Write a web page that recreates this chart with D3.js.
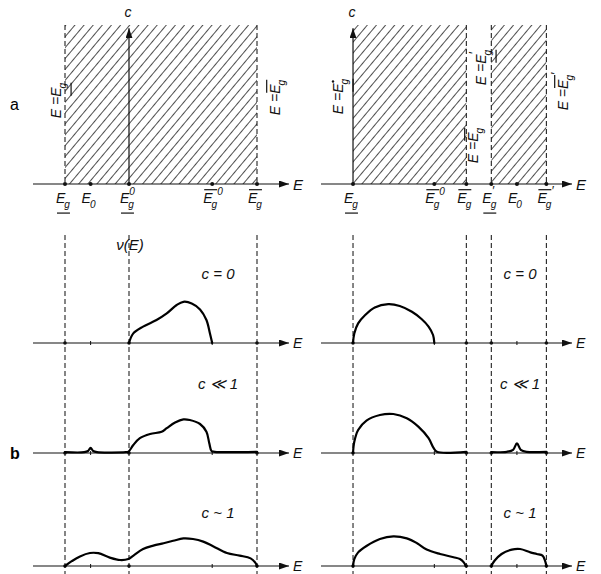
<!DOCTYPE html>
<html>
<head>
<meta charset="utf-8">
<script src="https://cdn.jsdelivr.net/npm/d3@7"></script>
<style>
  body { margin: 0; background: #fff; }
  svg { display: block; }
  .m { font-family: "Liberation Sans", Arial, sans-serif; font-style: italic; fill: #111; }
  .dash { stroke: #222; stroke-width: 1.1; stroke-dasharray: 5,3; fill: none; }
  .ax { stroke: #111; stroke-width: 1.2; fill: none; }
  .curve { stroke: #000; stroke-width: 2.2; fill: none; stroke-linejoin: round; stroke-linecap: round; }
</style>
</head>
<body>
<svg width="601" height="574"></svg>
<script>
// energies of the marked points (arbitrary units, one scale per half)
var leftTickE = [1, 1.4, 2, 3.3, 4];
var leftTickLabels = [
    {sub: "g", bar: "under"},
    {sub: "0"},
    {sub: "g", sup: "0", bar: "under"},
    {sub: "g", sup: "0", bar: "over"},
    {sub: "g", bar: "over"}
];
var leftBounds = [1, 2, 4];
var leftHatch = [[1, 4]];

var rightTickE = [1, 2.27, 2.77, 3.16, 3.56, 4.02];
var rightTickLabels = [
    {sub: "g", bar: "under"},
    {sub: "g", sup: "0", bar: "over"},
    {sub: "g", bar: "over"},
    {sub: "g", prime: true, bar: "under"},
    {sub: "0"},
    {sub: "g", prime: true, bar: "over"}
];
var rightBounds = [1, 2.77, 3.16, 4.02];
var rightHatch = [[1, 2.77], [3.16, 4.02]];

// density of states nu(E), rows c = 0, c << 1, c ~ 1
var rowLabels = ["c = 0", "c \u226A 1", "c ~ 1"];

var leftC0 = [[2.0,0],[2.067,0.24],[2.22,0.41],[2.43,0.575],[2.59,0.74],[2.745,0.95],[2.85,1.03],
    [2.98,0.99],[3.11,0.84],[3.21,0.575],[3.265,0.24],[3.3,0]];
var leftC1 = [[1,0.02],[1.3,0.02],[1.36,0.05],[1.4,0.13],[1.44,0.05],[1.5,0.02],[1.95,0.02],[1.99,0.03],
    [2.067,0.2],[2.17,0.37],[2.33,0.475],[2.51,0.53],[2.59,0.62],[2.72,0.76],[2.85,0.84],[2.95,0.825],
    [3.11,0.725],[3.21,0.53],[3.255,0.24],[3.29,0.05],[3.34,0.03],[4,0.03]];
var leftC2 = [[1.0,0],[1.105,0.12],[1.234,0.24],[1.39,0.325],[1.52,0.32],[1.70,0.21],[1.86,0.15],
    [1.99,0.175],[2.07,0.26],[2.22,0.425],[2.38,0.51],[2.54,0.57],[2.69,0.63],[2.85,0.69],[3.0,0.675],
    [3.16,0.61],[3.32,0.49],[3.53,0.325],[3.73,0.26],[3.9,0.19],[3.97,0.09],[4.0,0]];

var rightC0 = [[1.0,0],[1.02,0.24],[1.08,0.49],[1.19,0.7],[1.34,0.89],[1.55,0.97],[1.73,0.925],
    [1.92,0.78],[2.07,0.6],[2.18,0.41],[2.25,0.2],[2.27,0]];
var rightC1a = [[1.0,0],[1.02,0.28],[1.08,0.575],[1.21,0.81],[1.42,0.95],[1.63,0.975],[1.84,0.87],
    [2.02,0.66],[2.18,0.37],[2.26,0.12],[2.31,0.03],[2.77,0.03]];
var rightC1b = [[3.16,0.02],[3.4,0.03],[3.5,0.08],[3.56,0.24],[3.62,0.08],[3.71,0.03],[4.02,0.03]];
var rightC2a = [[1.0,0],[1.02,0.17],[1.08,0.34],[1.21,0.5],[1.42,0.675],[1.63,0.74],[1.84,0.69],
    [2.0,0.57],[2.15,0.41],[2.36,0.3],[2.57,0.22],[2.67,0.175],[2.73,0.09],[2.76,0]];
var rightC2b = [[3.16,0],[3.21,0.13],[3.32,0.3],[3.48,0.41],[3.61,0.425],[3.77,0.34],[3.87,0.3],
    [3.96,0.26],[4.0,0.13],[4.02,0]];

var svg = d3.select("svg");

var xL = d3.scaleLinear().domain([0.5, 4.5]).range([33, 289]),
    xR = d3.scaleLinear().domain([0.5, 4.42]).range([321, 572]),
    cY = d3.scaleLinear().domain([0, 1]).range([184, 25]),
    rowBase = [343, 453, 566];

var defs = svg.append("defs");
defs.append("marker")
    .attr("id", "arr")
    .attr("markerUnits", "userSpaceOnUse")
    .attr("markerWidth", 10).attr("markerHeight", 7)
    .attr("refX", 10).attr("refY", 3.5)
    .attr("orient", "auto")
    .append("path").attr("d", "M0,0 L10,3.5 L0,7 Z").attr("fill", "#111");

defs.append("pattern")
    .attr("id", "hatch")
    .attr("patternUnits", "userSpaceOnUse")
    .attr("width", 7).attr("height", 7)
    .attr("patternTransform", "rotate(40)")
    .append("line")
    .attr("x1", 3.5).attr("y1", 0).attr("x2", 3.5).attr("y2", 7)
    .attr("stroke", "#222").attr("stroke-width", 0.8);

// E with sub/superscript, prime and over/under bar; returns width
function eSym(g, x0, s, fs) {
    var e = g.append("text").attr("class", "m").attr("x", x0).attr("y", 0)
        .attr("font-size", fs).text("E");
    var wE = e.node().getComputedTextLength(),
        x1 = x0 + wE - 1,
        wSub = 0, wSup = 0;
    if (s.sub) {
        var st = g.append("text").attr("class", "m").attr("x", x1).attr("y", 5)
            .attr("font-size", fs * 0.72).text(s.sub);
        wSub = st.node().getComputedTextLength();
    }
    // with an overbar the superscript sits just past the bar's end
    var supX = s.bar === "over" ? x1 + wSub : x1 + 1;
    if (s.sup || s.prime) {
        var su = g.append("text").attr("class", "m").attr("x", supX).attr("y", -8)
            .attr("font-size", s.prime ? fs * 0.9 : fs * 0.72).text(s.sup ? s.sup : "\u2032");
        wSup = supX - x1 + su.node().getComputedTextLength();
    }
    if (s.dot) {
        g.append("circle").attr("cx", x1 + 3).attr("cy", -10).attr("r", 1.2).attr("fill", "#111");
    }
    if (s.bar) {
        var by = s.bar === "over" ? -fs * 0.95 : fs * 0.72;
        g.append("line").attr("x1", x0 + 1).attr("x2", x1 + wSub)
            .attr("y1", by).attr("y2", by).attr("stroke", "#111").attr("stroke-width", 1.2);
    }
    return wE + Math.max(wSub, wSup);
}

// rotated "E = E.." label centred on (cx, cy)
function boundLabel(cx, cy, s) {
    var g = svg.append("g").attr("transform", "translate(" + cx + "," + cy + ") rotate(-90)"),
        inner = g.append("g");
    var pre = inner.append("text").attr("class", "m").attr("font-size", 14).attr("x", 0).text("E = ");
    var w0 = pre.node().getComputedTextLength();
    var w = w0 + eSym(inner, w0, s, 14);
    inner.attr("transform", "translate(" + (-w / 2) + ",5)");
}

function topPanel(x, ticks, labels, hatch, dashed, cAxisE) {
    hatch.forEach(function(h) {
        svg.append("rect")
            .attr("x", x(h[0])).attr("y", cY(1))
            .attr("width", x(h[1]) - x(h[0])).attr("height", cY(0) - cY(1))
            .attr("fill", "url(#hatch)");
    });
    dashed.forEach(function(e) {
        svg.append("line").attr("class", "dash")
            .attr("x1", x(e)).attr("x2", x(e)).attr("y1", cY(1)).attr("y2", cY(0));
    });
    svg.append("line").attr("class", "ax")
        .attr("x1", x(cAxisE)).attr("x2", x(cAxisE)).attr("y1", cY(0)).attr("y2", cY(0.98))
        .attr("marker-end", "url(#arr)");
    svg.append("text").attr("class", "m").attr("font-size", 14)
        .attr("x", x(cAxisE) - 1).attr("y", 17).attr("text-anchor", "middle").text("c");
    svg.append("line").attr("class", "ax")
        .attr("x1", x.range()[0]).attr("x2", x.range()[1]).attr("y1", cY(0)).attr("y2", cY(0))
        .attr("marker-end", "url(#arr)");
    svg.append("text").attr("class", "m").attr("font-size", 15)
        .attr("x", x.range()[1] + 4).attr("y", cY(0) + 6).text("E");
    ticks.forEach(function(e, i) {
        svg.append("circle").attr("cx", x(e)).attr("cy", cY(0)).attr("r", 2).attr("fill", "#111");
        var g = svg.append("g").attr("transform", "translate(" + (x(e) - 9) + ",203)");
        eSym(g, 0, labels[i], 14);
    });
}

function densityRows(x, bounds, ticks, curves) {
    bounds.forEach(function(e) {
        svg.append("line").attr("class", "dash")
            .attr("x1", x(e)).attr("x2", x(e)).attr("y1", 235).attr("y2", 574);
    });
    rowBase.forEach(function(b, r) {
        var ny = d3.scaleLinear().domain([0, 1]).range([b, b - 40]);
        svg.append("line").attr("class", "ax")
            .attr("x1", x.range()[0]).attr("x2", x.range()[1]).attr("y1", b).attr("y2", b)
            .attr("marker-end", "url(#arr)");
        svg.append("text").attr("class", "m").attr("font-size", 14)
            .attr("x", x.range()[1] + 4).attr("y", b + 5).text("E");
        ticks.forEach(function(e) {
            svg.append("line").attr("stroke", "#111").attr("stroke-width", 1)
                .attr("x1", x(e)).attr("x2", x(e)).attr("y1", b - 2).attr("y2", b + 2);
        });
        bounds.forEach(function(e) {
            svg.append("circle").attr("cx", x(e)).attr("cy", b).attr("r", 1.8).attr("fill", "#111");
        });
        var line = d3.line()
            .x(function(d) { return x(d[0]); })
            .y(function(d) { return ny(d[1]); })
            .curve(d3.curveCatmullRom.alpha(0.5));
        curves[r].forEach(function(c) {
            svg.append("path").attr("class", "curve").attr("d", line(c));
        });
    });
}

// a: phase diagrams
topPanel(xL, leftTickE, leftTickLabels, leftHatch, [1, 4], 2);
topPanel(xR, rightTickE, rightTickLabels, rightHatch, [2.77, 3.16, 4.02], 1);

boundLabel(56, 100, {sub: "g", bar: "under"});
boundLabel(275, 97, {sub: "g", bar: "over"});
boundLabel(338, 96, {sub: "g", dot: true, bar: "under"});
boundLabel(473, 145, {sub: "g", bar: "over"});
boundLabel(481, 67, {sub: "g", prime: true, bar: "under"});
boundLabel(563, 91, {sub: "g", prime: true, bar: "over"});

// b: density of states
densityRows(xL, leftBounds, [1.4, 3.3], [[leftC0], [leftC1], [leftC2]]);
densityRows(xR, rightBounds, [2.27, 3.56], [[rightC0], [rightC1a, rightC1b], [rightC2a, rightC2b]]);

var rowLabelY = [279, 389, 518];
rowLabels.forEach(function(t, i) {
    [218, 520].forEach(function(cx) {
        svg.append("text").attr("class", "m").attr("font-size", 15)
            .attr("x", cx).attr("y", rowLabelY[i]).attr("text-anchor", "middle").text(t);
    });
});

svg.append("text").attr("class", "m").attr("font-size", 15)
    .attr("x", 130).attr("y", 250).attr("text-anchor", "middle").text("\u03BD(E)");

svg.append("text").attr("font-family", "Liberation Sans, Arial, sans-serif").attr("font-size", 16)
    .attr("x", 10).attr("y", 110).text("a");
svg.append("text").attr("font-family", "Liberation Sans, Arial, sans-serif").attr("font-size", 16)
    .attr("font-weight", "bold").attr("x", 10).attr("y", 459).text("b");
</script>
</body>
</html>
